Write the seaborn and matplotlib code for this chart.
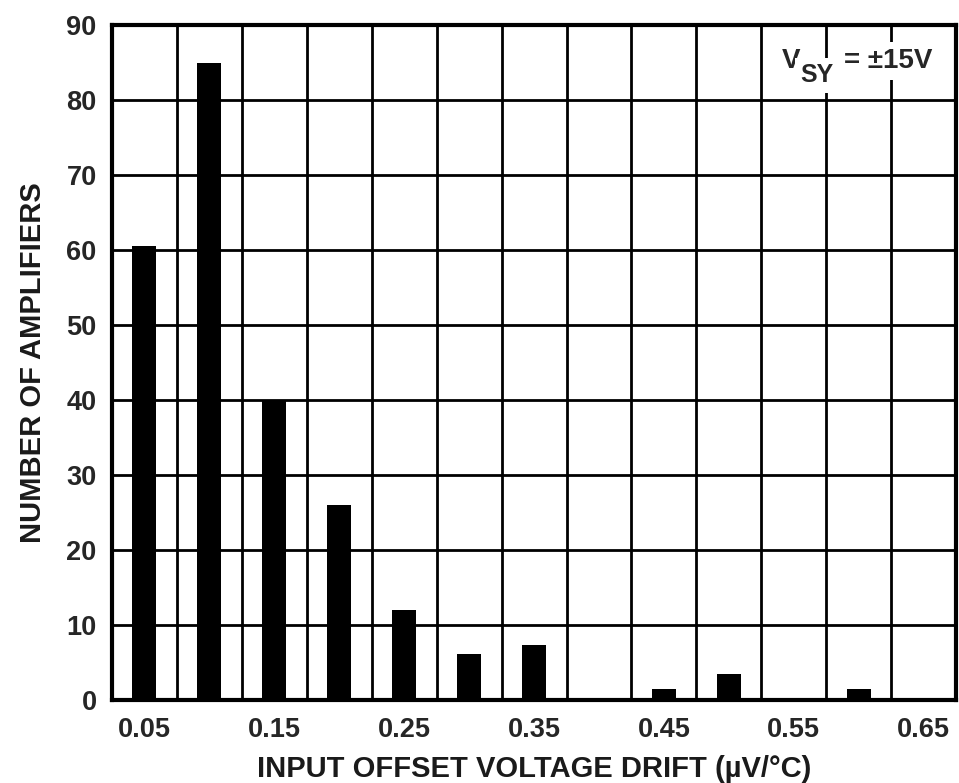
import seaborn as sns
import matplotlib.pyplot as plt
import numpy as np


# ---------- DATA ---------- #

drift = [0.05, 0.10, 0.15, 0.20, 0.25, 0.30, 0.35, 0.40, 0.45, 0.50, 0.55, 0.60]
counts = [60.6, 85, 40, 26, 12, 6.2, 7.3, 0, 1.5, 3.5, 0, 1.5]
xtick_vals = [0.05, 0.15, 0.25, 0.35, 0.45, 0.55, 0.65]
ytick_vals = list(range(0, 100, 10))


# ---------- PLOT ---------- #

sns.set_style("white")
plt.rcParams['font.family'] = ['Liberation Sans', 'DejaVu Sans']
plt.rcParams['font.weight'] = 'bold'

fig = plt.figure(figsize=(9.59, 7.83), dpi=100)
ax = fig.add_axes([0.1168, 0.106, 0.8802, 0.862])

sns.barplot(x=drift, y=counts, native_scale=True, width=0.37,
            color='black', saturation=1, linewidth=0, ax=ax, zorder=3)

ax.set_xlim(0.025, 0.675)
ax.set_ylim(0, 90)
ax.set_xticks(xtick_vals)
ax.set_xticklabels([f"{v:.2f}" for v in xtick_vals])
ax.set_xticks(np.arange(0.075, 0.675, 0.05), minor=True)
ax.set_yticks(ytick_vals)

ax.grid(False)
ax.xaxis.grid(True, which='minor', color='black', linewidth=2)
ax.yaxis.grid(True, which='major', color='black', linewidth=2)
ax.set_axisbelow(True)
ax.tick_params(which='both', length=0)
ax.tick_params(axis='x', pad=12, labelsize=19.5)
ax.tick_params(axis='y', pad=11, labelsize=19.5)

for s in ax.spines.values():
    s.set_color('black')
    s.set_linewidth(3)
    s.set_visible(True)

ax.set_xlabel("INPUT OFFSET VOLTAGE DRIFT (µV/°C)", fontsize=21,
              fontweight='bold', color='#1a1a1a', labelpad=9)
ax.set_ylabel("NUMBER OF AMPLIFIERS", fontsize=21,
              fontweight='bold', color='#1a1a1a', labelpad=14)

# V_SY = ±15V label, subscript nearly full size as in the original
box = dict(facecolor='white', edgecolor='none', pad=4)
t1 = ax.text(0.541, 85.2, "V", fontsize=20, fontweight='bold',
             ha='left', va='center', zorder=4, bbox=box)
t2 = ax.annotate("SY", xy=(1, 0), xycoords=t1, xytext=(0, -1),
                 textcoords='offset points', fontsize=18, fontweight='bold',
                 ha='left', va='center', zorder=5, bbox=box)
ax.annotate("= ±15V", xy=(1, 0.5), xycoords=(t2, t1), xytext=(7, 0),
            textcoords='offset points', fontsize=20, fontweight='bold',
            ha='left', va='center', zorder=4, bbox=box)

plt.savefig("out.png", dpi=100)
